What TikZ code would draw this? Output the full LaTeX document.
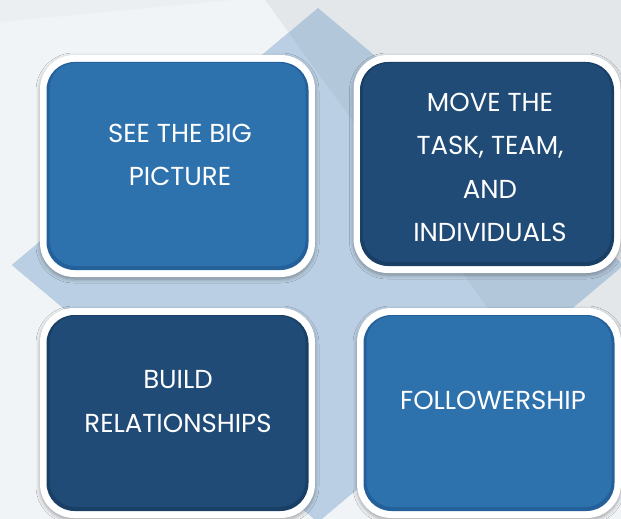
\documentclass[tikz,border=0pt]{standalone}
\usepackage{fontspec}
\setmainfont{Poppins}
\usetikzlibrary{shadows.blur}
\definecolor{bgright}{HTML}{E4E7EA}
\definecolor{bgleft}{HTML}{F1F4F7}
\definecolor{bgtop}{HTML}{ECEFF2}
\definecolor{diaL}{HTML}{BACFE3}
\definecolor{diaR}{HTML}{B3C7DB}
\definecolor{lightblue}{HTML}{2D71AD}
\definecolor{lightrim}{HTML}{24609A}
\definecolor{darkblue}{HTML}{1F4B76}
\definecolor{darkrim}{HTML}{193F65}
\tikzset{
  outerbox/.style={rectangle, rounded corners=34pt, fill=white, inner sep=0pt,
    blur shadow={shadow xshift=0pt, shadow yshift=-2pt, shadow blur steps=6, shadow opacity=35, shadow blur radius=4pt}},
  rimbox/.style={rectangle, rounded corners=28pt, inner sep=0pt},
  corebox/.style={rectangle, rounded corners=26pt, inner sep=0pt},
  label/.style={text=white, align=center, inner sep=0pt, font=\fontsize{26}{43.5}\selectfont}
}
\begin{document}
\begin{tikzpicture}[x=1pt,y=-1pt]
\useasboundingbox (0,0) rectangle (621,519);
% background
\fill[bgright] (0,0) rectangle (621,519);
\fill[bgleft] (0,0) -- (265,0) -- (640,519) -- (0,519) -- cycle;
\fill[bgtop] (0,0) -- (233,0) -- (0,22) -- cycle;
% diamond
\begin{scope}
  \clip (318,8) -- (624,265) -- (318,522) -- (12,265) -- cycle;
  \fill[diaR] (0,0) rectangle (621,519);
  \fill[diaL] (0,0) -- (265,0) -- (640,519) -- (0,519) -- cycle;
\end{scope}
% box 1
\node[outerbox, minimum width=275pt, minimum height=222pt] (o1) at (177.5,166) {};
\node[rimbox, fill=lightrim, minimum width=262pt, minimum height=208pt] (r1) at (o1.center) {};
\node[corebox, fill=lightblue, minimum width=256pt, minimum height=203pt, yshift=1.5pt] (c1) at (o1.center) {};
% box 2
\node[outerbox, minimum width=267pt, minimum height=218pt] (o2) at (487,164) {};
\node[rimbox, fill=darkrim, minimum width=254pt, minimum height=204pt] (r2) at (o2.center) {};
\node[corebox, fill=darkblue, minimum width=248pt, minimum height=199pt, yshift=1.5pt] (c2) at (o2.center) {};
% box 3
\node[outerbox, minimum width=275pt, minimum height=210pt] (o3) at (177.5,413) {};
\node[rimbox, fill=darkrim, minimum width=262pt, minimum height=196pt] (r3) at (o3.center) {};
\node[corebox, fill=darkblue, minimum width=256pt, minimum height=191pt, yshift=1.5pt] (c3) at (o3.center) {};
% box 4
\node[outerbox, minimum width=264pt, minimum height=210pt] (o4) at (489,413) {};
\node[rimbox, fill=lightrim, minimum width=251pt, minimum height=196pt] (r4) at (o4.center) {};
\node[corebox, fill=lightblue, minimum width=245pt, minimum height=191pt, yshift=1.5pt] (c4) at (o4.center) {};
% labels
\node[label] (t1) at (180,155) {SEE THE BIG\\PICTURE};
\node[label] (t2) at (490,167.5) {MOVE THE\\TASK, TEAM,\\AND\\INDIVIDUALS};
\node[label] (t3) at (178,401.5) {BUILD\\RELATIONSHIPS};
\node[label] (t4) at (493,400) {FOLLOWERSHIP};
\end{tikzpicture}
\end{document}
